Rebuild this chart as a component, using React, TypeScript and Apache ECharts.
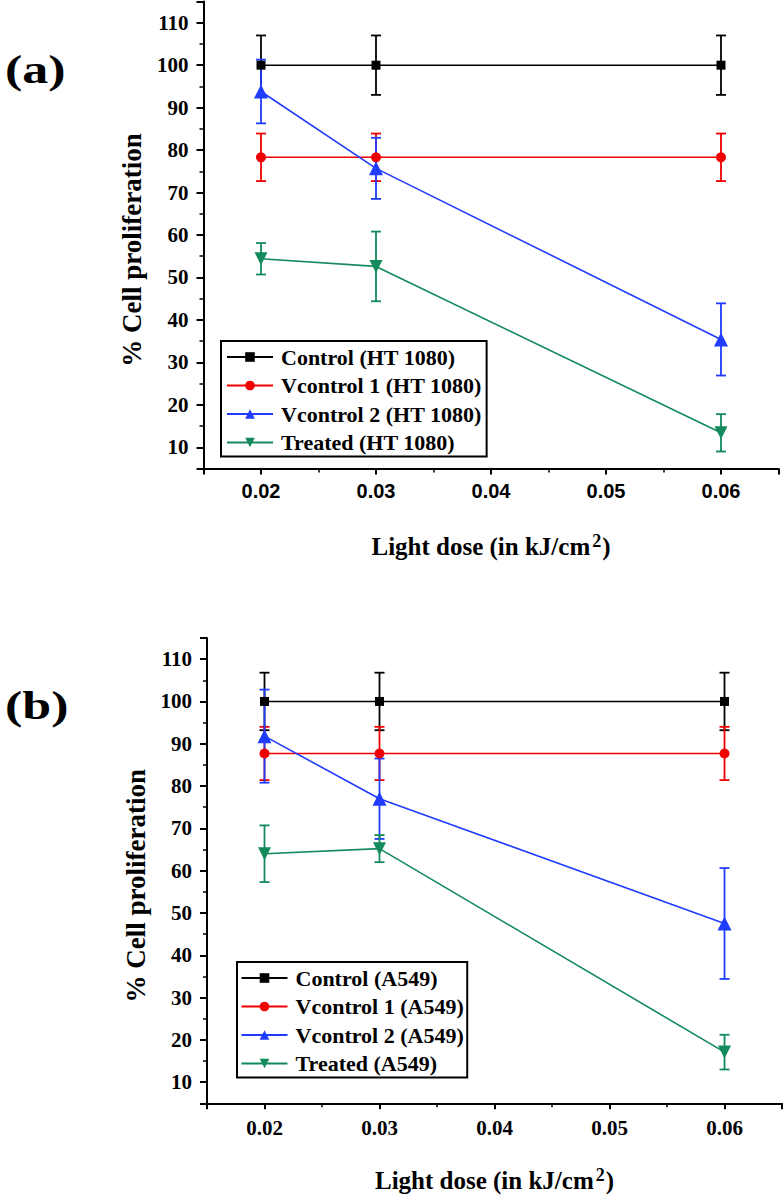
import React, { useEffect, useRef } from "react";
import * as echarts from "echarts";

// ---- data ----
const doses = [0.02, 0.03, 0.06];

const namesA = ["Control (HT 1080)", "Vcontrol 1 (HT 1080)", "Vcontrol 2 (HT 1080)", "Treated (HT 1080)"];
const controlA = [100, 100, 100];
const controlAErr = [7, 7, 7];
const vcontrol1A = [78.3, 78.3, 78.3];
const vcontrol1AErr = [5.6, 5.6, 5.6];
const vcontrol2A = [93.8, 75.7, 35.4];
const vcontrol2AErr = [7.5, 7.2, 8.5];
const treatedA = [54.4, 52.6, 13.4];
const treatedAErr = [3.7, 8.2, 4.4];

const namesB = ["Control (A549)", "Vcontrol 1 (A549)", "Vcontrol 2 (A549)", "Treated (A549)"];
const controlB = [100, 100, 100];
const controlBErr = [6.8, 6.8, 6.8];
const vcontrol1B = [87.7, 87.7, 87.7];
const vcontrol1BErr = [6.3, 6.3, 6.3];
const vcontrol2B = [91.8, 77.0, 47.5];
const vcontrol2BErr = [11, 9.5, 13.1];
const treatedB = [64.0, 65.2, 17.1];
const treatedBErr = [6.7, 3.2, 4.1];

const yTitle = "% Cell proliferation";
const panelLabels = ["(a)", "(b)"];

// ---- styles ----
const colors = ["#000000", "#f00000", "#1f3cff", "#138a5c"];
const symbols = ["rect", "circle", "triangle", "path://M0,0 L10,0 L5,9 Z"];
const symbolSizes = [9, 10, 14, 13];
const SERIF = "Liberation Serif";
const SANS = "Liberation Sans";

function makeErrSeries(name: string, idx: number, vals: number[], errs: number[], color: string) {
  return {
    type: "custom",
    name,
    xAxisIndex: idx,
    yAxisIndex: idx,
    silent: true,
    z: 1,
    data: doses.map((d, i) => [d, vals[i], errs[i]]),
    encode: { x: 0, y: 1 },
    renderItem: (_params: any, api: any) => {
      const x = api.value(0);
      const y = api.value(1);
      const e = api.value(2);
      const top = api.coord([x, y + e]);
      const bot = api.coord([x, y - e]);
      const hw = 5;
      const style = { stroke: color, lineWidth: 1.8 };
      return {
        type: "group",
        children: [
          { type: "line", shape: { x1: top[0], y1: top[1], x2: bot[0], y2: bot[1] }, style },
          { type: "line", shape: { x1: top[0] - hw, y1: top[1], x2: top[0] + hw, y2: top[1] }, style },
          { type: "line", shape: { x1: bot[0] - hw, y1: bot[1], x2: bot[0] + hw, y2: bot[1] }, style },
        ],
      };
    },
  };
}

function makeLineSeries(name: string, idx: number, k: number, vals: number[]) {
  return {
    type: "line",
    name,
    xAxisIndex: idx,
    yAxisIndex: idx,
    z: 3,
    data: doses.map((d, i) => [d, vals[i]]),
    symbol: symbols[k],
    symbolSize: symbolSizes[k],
    showAllSymbol: true,
    lineStyle: { color: colors[k], width: 1.6 },
    itemStyle: { color: colors[k] },
    emphasis: { disabled: true },
  };
}

function xAxisFor(idx: number, labelFont: string, labelSize: number, margin: number) {
  return {
    type: "value",
    gridIndex: idx,
    min: 0.015,
    max: 0.065,
    splitNumber: 5,
    axisLine: { show: true, onZero: false, lineStyle: { color: "#000", width: 2 } },
    axisTick: { show: true, inside: false, length: 6, lineStyle: { color: "#000", width: 2 } },
    minorTick: { show: true, splitNumber: 2, length: 4, lineStyle: { color: "#000", width: 1.5 } },
    splitLine: { show: false },
    axisLabel: {
      margin,
      color: "#000",
      fontFamily: labelFont,
      fontWeight: "bold",
      fontSize: labelSize,
      showMinLabel: false,
      showMaxLabel: false,
      formatter: (v: number) => {
        const r = Math.round(v * 100);
        return Math.abs(v * 100 - r) < 1e-6 ? (r / 100).toFixed(2) : "";
      },
    },
    name: "{t|Light dose (in kJ/cm}{s|2}{t|)}",
    nameLocation: "middle",
    nameGap: 63,
    nameTextStyle: {
      rich: {
        t: { fontFamily: SERIF, fontWeight: "bold", fontSize: 25, color: "#000", lineHeight: 29 },
        s: { fontFamily: SERIF, fontWeight: "bold", fontSize: 18, color: "#000", lineHeight: 18, verticalAlign: "top", padding: [0, 1, 0, 2] },
      },
    },
  };
}

function yAxisFor(idx: number) {
  return {
    type: "value",
    gridIndex: idx,
    min: 5,
    max: 115,
    splitNumber: 11,
    axisLine: { show: true, onZero: false, lineStyle: { color: "#000", width: 2 } },
    axisTick: { show: true, inside: false, length: 7, lineStyle: { color: "#000", width: 2 } },
    minorTick: { show: true, splitNumber: 2, length: 4, lineStyle: { color: "#000", width: 1.5 } },
    splitLine: { show: false },
    axisLabel: {
      margin: 15,
      color: "#000",
      fontFamily: SERIF,
      fontWeight: "bold",
      fontSize: 21,
      formatter: (v: number) => (Math.round(v) % 10 === 0 ? String(Math.round(v)) : ""),
    },
    name: yTitle,
    nameLocation: "middle",
    nameRotate: 90,
    nameGap: 58,
    nameTextStyle: { fontFamily: SERIF, fontWeight: "bold", fontSize: 27, color: "#000", padding: [0, 30, 0, 0] },
  };
}

function legendFor(names: string[], left: number, top: number, padding: number[]) {
  return {
    show: true,
    data: names,
    left,
    top,
    orient: "vertical",
    itemWidth: 46,
    itemHeight: 12,
    itemGap: 6.5,
    padding,
    borderColor: "#000",
    borderWidth: 2,
    backgroundColor: "#fff",
    selectedMode: false,
    z: 10,
    textStyle: { fontFamily: SERIF, fontWeight: "bold", fontSize: 22, color: "#000", padding: [0, 0, 0, 3] },
  };
}

export default function App() {
  const ref = useRef<HTMLDivElement>(null);
  useEffect(() => {
    if (!ref.current) return;
    const chart = echarts.init(ref.current, null, { renderer: "svg" });
    const valsA = [controlA, vcontrol1A, vcontrol2A, treatedA];
    const errsA = [controlAErr, vcontrol1AErr, vcontrol2AErr, treatedAErr];
    const valsB = [controlB, vcontrol1B, vcontrol2B, treatedB];
    const errsB = [controlBErr, vcontrol1BErr, vcontrol2BErr, treatedBErr];
    const series: any[] = [];
    for (let k = 0; k < 4; k++) {
      series.push(makeErrSeries("errA" + k, 0, valsA[k], errsA[k], colors[k]));
      series.push(makeErrSeries("errB" + k, 1, valsB[k], errsB[k], colors[k]));
    }
    for (let k = 0; k < 4; k++) {
      series.push(makeLineSeries(namesA[k], 0, k, valsA[k]));
      series.push(makeLineSeries(namesB[k], 1, k, valsB[k]));
    }
    const option: any = {
      animation: false,
      backgroundColor: "#fff",
      grid: [
        { left: 203.5, top: 1.5, width: 575, height: 467, containLabel: false },
        { left: 207, top: 638, width: 575, height: 465.3, containLabel: false },
      ],
      xAxis: [xAxisFor(0, SANS, 20, 12), xAxisFor(1, SERIF, 21, 14)],
      yAxis: [yAxisFor(0), yAxisFor(1)],
      legend: [
        legendFor(namesA, 221, 341, [5, 5, 3, 5]),
        legendFor(namesB, 237, 962, [5, 3.5, 3, 3.5]),
      ],
      graphic: [
        {
          type: "text", x: 5, y: 70, scaleX: 1.3,
          style: { text: panelLabels[0], font: `bold 40px "${SERIF}"`, fill: "#000", align: "left", verticalAlign: "middle" },
        },
        {
          type: "text", x: 5, y: 706, scaleX: 1.3,
          style: { text: panelLabels[1], font: `bold 40px "${SERIF}"`, fill: "#000", align: "left", verticalAlign: "middle" },
        },
      ],
      series,
    };
    chart.setOption(option);
    return () => chart.dispose();
  }, []);
  return (
    <div
      ref={ref}
      style={{ position: "fixed", left: 0, top: 0, width: 784, height: 1197, background: "#fff" }}
    />
  );
}
